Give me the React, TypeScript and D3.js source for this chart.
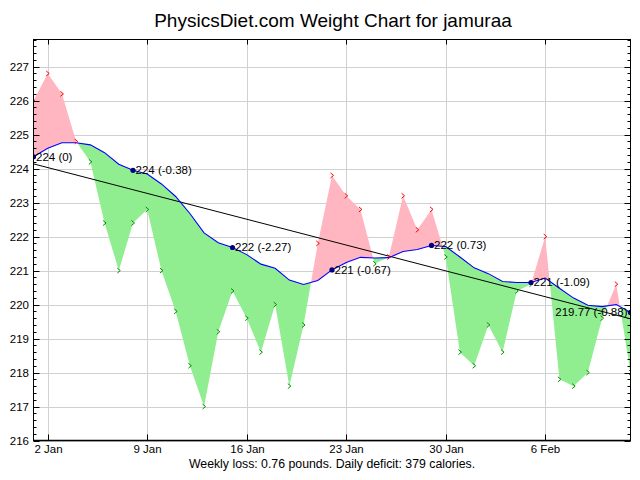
import React from "react";
import * as d3 from "d3";

const TITLE = "PhysicsDiet.com Weight Chart for jamuraa";
const FOOTER = "Weekly loss: 0.76 pounds. Daily deficit: 379 calories.";

const startDate = "2011-01-01";
const weights = [
  226.0, 226.8, 226.2, 224.8, 224.2, 222.4, 221.0, 222.4, 222.8, 221.0,
  219.8, 218.2, 217.0, 219.2, 220.4, 219.6, 218.6, 220.0, 217.6, 219.4,
  221.8, 223.8, 223.2, 222.8, 221.2, 221.4, 223.2, 222.2, 222.8, 221.4,
  218.6, 218.2, 219.4, 218.6, 220.4, 220.6, 222.0, 217.8, 217.6, 218.0,
  219.6, 220.6, 218.0,
];
const trend = [
  224.35, 224.6, 224.76, 224.76, 224.7, 224.47, 224.13, 223.95, 223.84, 223.55,
  223.18, 222.68, 222.11, 221.82, 221.68, 221.47, 221.19, 221.07, 220.72, 220.59,
  220.71, 221.02, 221.24, 221.39, 221.37, 221.38, 221.56, 221.62, 221.74, 221.71,
  221.4, 221.08, 220.91, 220.68, 220.65, 220.65, 220.78, 220.48, 220.19, 219.98,
  219.94, 220.0, 219.77,
];
const weeklyIdx = [0, 7, 14, 21, 28, 35, 42];
const weeklyLabels = [
  "224 (0)", "224 (-0.38)", "222 (-2.27)", "221 (-0.67)", "222 (0.73)", "221 (-1.09)", "219.77 (-0.88)",
];
const regression = [224.14, 219.58];
const xTickDates = ["2011-01-02", "2011-01-09", "2011-01-16", "2011-01-23", "2011-01-30", "2011-02-06"];
const xTickLabels = ["2 Jan", "9 Jan", "16 Jan", "23 Jan", "30 Jan", "6 Feb"];
const yTicks = [216, 217, 218, 219, 220, 221, 222, 223, 224, 225, 226, 227];

const L = 33.5, R = 630.5, T = 39.5, B = 440.5;
const FONT = "'Liberation Sans', Arial, sans-serif";

export default function App() {
  const parse = d3.utcParse("%Y-%m-%d");
  const d0 = parse(startDate)!;
  const dates = weights.map((_, i) => d3.utcDay.offset(d0, i));
  const x = d3.scaleUtc().domain([dates[0], dates[dates.length - 1]]).range([L, R]);
  const y = d3.scaleLinear().domain([216, 227.8]).range([B, T]);

  type P = [number, number];
  const polys: { sign: number; pts: P[] }[] = [];
  let wPts: P[] = [];
  let tPts: P[] = [];
  let sign = Math.sign(weights[0] - trend[0]) || 1;
  wPts.push([x(dates[0]), y(weights[0])]);
  tPts.push([x(dates[0]), y(trend[0])]);
  for (let i = 1; i < weights.length; i++) {
    const dPrev = weights[i - 1] - trend[i - 1];
    const dCur = weights[i] - trend[i];
    const s = Math.sign(dCur);
    if (s === 0 || s === sign) {
      wPts.push([x(dates[i]), y(weights[i])]);
      tPts.push([x(dates[i]), y(trend[i])]);
    } else {
      const f = dPrev / (dPrev - dCur);
      const xa = x(dates[i - 1]), xb = x(dates[i]);
      const xc = xa + f * (xb - xa);
      const vc = weights[i - 1] + f * (weights[i] - weights[i - 1]);
      const c: P = [xc, y(vc)];
      wPts.push(c);
      tPts.push(c);
      polys.push({ sign, pts: [...wPts, ...tPts.slice().reverse()] });
      sign = s;
      wPts = [c, [xb, y(weights[i])]];
      tPts = [c, [xb, y(trend[i])]];
    }
  }
  polys.push({ sign, pts: [...wPts, ...tPts.slice().reverse()] });

  const trendLine = d3.line<number>().x((_, i) => x(dates[i])).y((v) => y(v))(trend) || "";

  const minorTicks = d3.range(216, 227.81, 0.2).map((v) => Math.round(v * 10) / 10);

  return (
    <svg width={640} height={480} style={{ position: "absolute", left: 0, top: 0, background: "#fff" }}>
      <defs>
        <clipPath id="plot">
          <rect x={L} y={T} width={R - L} height={B - T} />
        </clipPath>
      </defs>
      <rect x={0} y={0} width={640} height={480} fill="#fff" />
      <text x={333} y={27} textAnchor="middle" fontFamily={FONT} fontSize={19} fill="#000">{TITLE}</text>
      {yTicks.map((v) => (
        <line key={"gy" + v} x1={L} x2={R} y1={Math.round(y(v)) + 0.5} y2={Math.round(y(v)) + 0.5} stroke="#d0d0d0" />
      ))}
      {xTickDates.map((d) => {
        const xx = Math.round(x(parse(d)!)) + 0.5;
        return <line key={"gx" + d} x1={xx} x2={xx} y1={T} y2={B} stroke="#d0d0d0" />;
      })}
      <g clipPath="url(#plot)">
        {polys.map((p, i) => (
          <path key={"f" + i} d={"M" + p.pts.map((q) => q.join(",")).join("L") + "Z"} fill={p.sign > 0 ? "#ffb6c1" : "#90ee90"} />
        ))}
        <line x1={x(dates[0])} y1={y(regression[0])} x2={x(dates[dates.length - 1])} y2={y(regression[1])} stroke="#000" strokeWidth={1} />
        <path d={trendLine} fill="none" stroke="#0000ff" strokeWidth={1.1} />
        {weights.map((w, i) => {
          const xx = x(dates[i]), yy = y(w);
          const up = w - trend[i] > 0;
          return (
            <path key={"m" + i} d={`M${xx - 1.5},${yy - 2.5}L${xx + 1.5},${yy}L${xx - 1.5},${yy + 2.5}`} fill="none" stroke={up ? "#ff0000" : "#009000"} strokeWidth={1} />
          );
        })}
        {weeklyIdx.map((idx, k) => (
          <circle key={"d" + k} cx={x(dates[idx])} cy={y(trend[idx])} r={2.6} fill="#000080" />
        ))}
      </g>
      {weeklyIdx.map((idx, k) => {
        const last = k === weeklyIdx.length - 1;
        return (
          <text key={"l" + k} x={last ? x(dates[idx]) - 3 : x(dates[idx]) + 2.5} y={y(trend[idx]) + 4} textAnchor={last ? "end" : "start"} fontFamily={FONT} fontSize={11.5} fill="#000">
            {weeklyLabels[k]}
          </text>
        );
      })}
      <rect x={L} y={T} width={R - L} height={B - T} fill="none" stroke="#000" strokeWidth={1} />
      <line x1={L} x2={R} y1={B} y2={B} stroke="#000" strokeWidth={1.5} />
      {minorTicks.map((v) => {
        const major = Math.abs(v - Math.round(v)) < 1e-6;
        const yy = Math.round(y(v)) + 0.5;
        const len = major ? 6 : 3;
        return (
          <g key={"t" + v}>
            <line x1={L} x2={L + len} y1={yy} y2={yy} stroke="#000" />
            <line x1={R} x2={R - len} y1={yy} y2={yy} stroke="#000" />
          </g>
        );
      })}
      {yTicks.map((v) => (
        <text key={"yl" + v} x={29} y={y(v) + 4} textAnchor="end" fontFamily={FONT} fontSize={11.5} fill="#000">{v}</text>
      ))}
      {xTickDates.map((d, i) => {
        const xx = Math.round(x(parse(d)!)) + 0.5;
        return (
          <g key={"xt" + d}>
            <line x1={xx} x2={xx} y1={B} y2={B - 6} stroke="#000" />
            <line x1={xx} x2={xx} y1={T} y2={T + 5} stroke="#000" />
            <text x={xx} y={453} textAnchor="middle" fontFamily={FONT} fontSize={11.5} fill="#000">{xTickLabels[i]}</text>
          </g>
        );
      })}
      <text x={332} y={468} textAnchor="middle" fontFamily={FONT} fontSize={12.3} fill="#000">{FOOTER}</text>
    </svg>
  );
}
